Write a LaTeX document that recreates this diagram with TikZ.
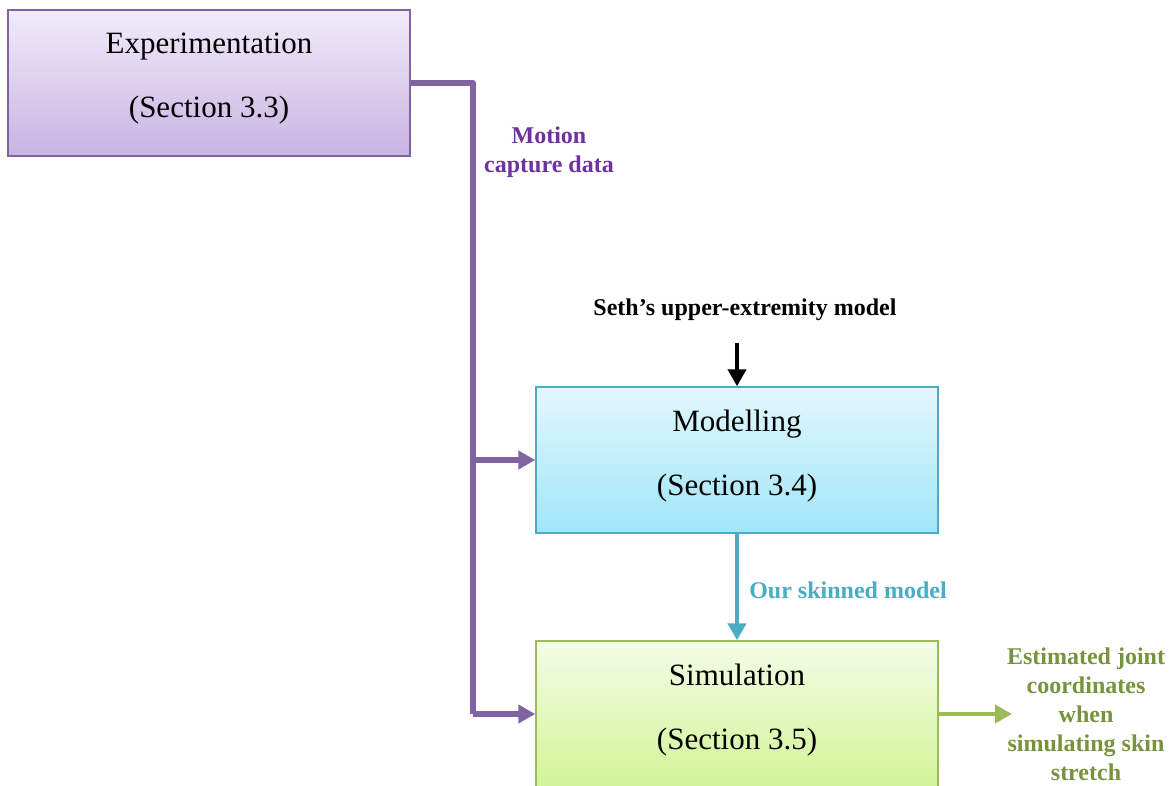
\documentclass[tikz,border=0pt]{standalone}
\usepackage{fontspec}
\setmainfont{Liberation Serif}
\usetikzlibrary{arrows.meta}
\definecolor{purp}{HTML}{8064A2}
\definecolor{purptext}{HTML}{7030A0}
\definecolor{cyanb}{HTML}{4BACC6}
\definecolor{greenb}{HTML}{9BBB59}
\definecolor{greentext}{HTML}{77933C}
\tikzset{
  box/.style={draw, line width=1.5pt, minimum width=402pt, minimum height=146pt, inner sep=0pt},
  boxtext/.style={align=center, inner sep=0pt, font=\fontsize{31}{64}\selectfont},
  lbl/.style={align=center, inner sep=0pt, font=\bfseries\fontsize{24}{29}\selectfont},
  arr/.style={line width=5.5pt, -{Triangle[length=17pt,width=18pt]}},
}
\begin{document}
\begin{tikzpicture}[x=1pt,y=-1pt]
\useasboundingbox (0,0) rectangle (1172,785);
\begin{scope}
\clip (0,0) rectangle (1172,785);
\node[box, draw=purp, top color={rgb,255:red,241;green,235;blue,249}, bottom color={rgb,255:red,200;green,180;blue,227}] (exp) at (209,83) {};
\node[box, draw=cyanb, top color={rgb,255:red,226;green,247;blue,253}, bottom color={rgb,255:red,160;green,230;blue,250}] (mod) at (737,460) {};
\node[box, draw=greenb, top color={rgb,255:red,244;green,252;blue,230}, bottom color={rgb,255:red,210;green,244;blue,150}] (sim) at (737,714) {};
\end{scope}
\node[boxtext] (expt) at ([yshift=4pt]exp.center) {Experimentation\\(Section 3.3)};
\node[boxtext] (modt) at ([yshift=4pt]mod.center) {Modelling\\(Section 3.4)};
\node[boxtext] (simt) at ([yshift=4pt]sim.center) {Simulation\\(Section 3.5)};
\coordinate (jt) at (473,83);
\coordinate (jm) at (473,460);
\coordinate (jb) at (473,714);
\draw[draw=purp, line width=5.5pt, line join=round] (exp.east) -- (jt) -- (jb);
\draw[arr, draw=purp, fill=purp] (jb) -- (sim.west);
\draw[arr, draw=purp, fill=purp] (jm) -- (mod.west);
\node[lbl, text=purptext] (mcd) at (549,152) {Motion\\capture data};
\node[lbl] (seth) at (745,310) {Seth’s upper-extremity model};
\coordinate (st) at (737,343);
\draw[arr, line width=4.5pt] (st) -- (mod.north);
\draw[arr, draw=cyanb, fill=cyanb, line width=4.5pt] (mod.south) -- (sim.north);
\node[lbl, text=cyanb] (osm) at (848,590) {Our skinned model};
\coordinate (out) at (1012,714);
\draw[arr, draw=greenb, fill=greenb, line width=4.5pt] (sim.east) -- (out);
\node[lbl, text=greentext] (ejc) at (1086,714) {Estimated joint\\coordinates\\when\\simulating skin\\stretch};
\end{tikzpicture}
\end{document}
